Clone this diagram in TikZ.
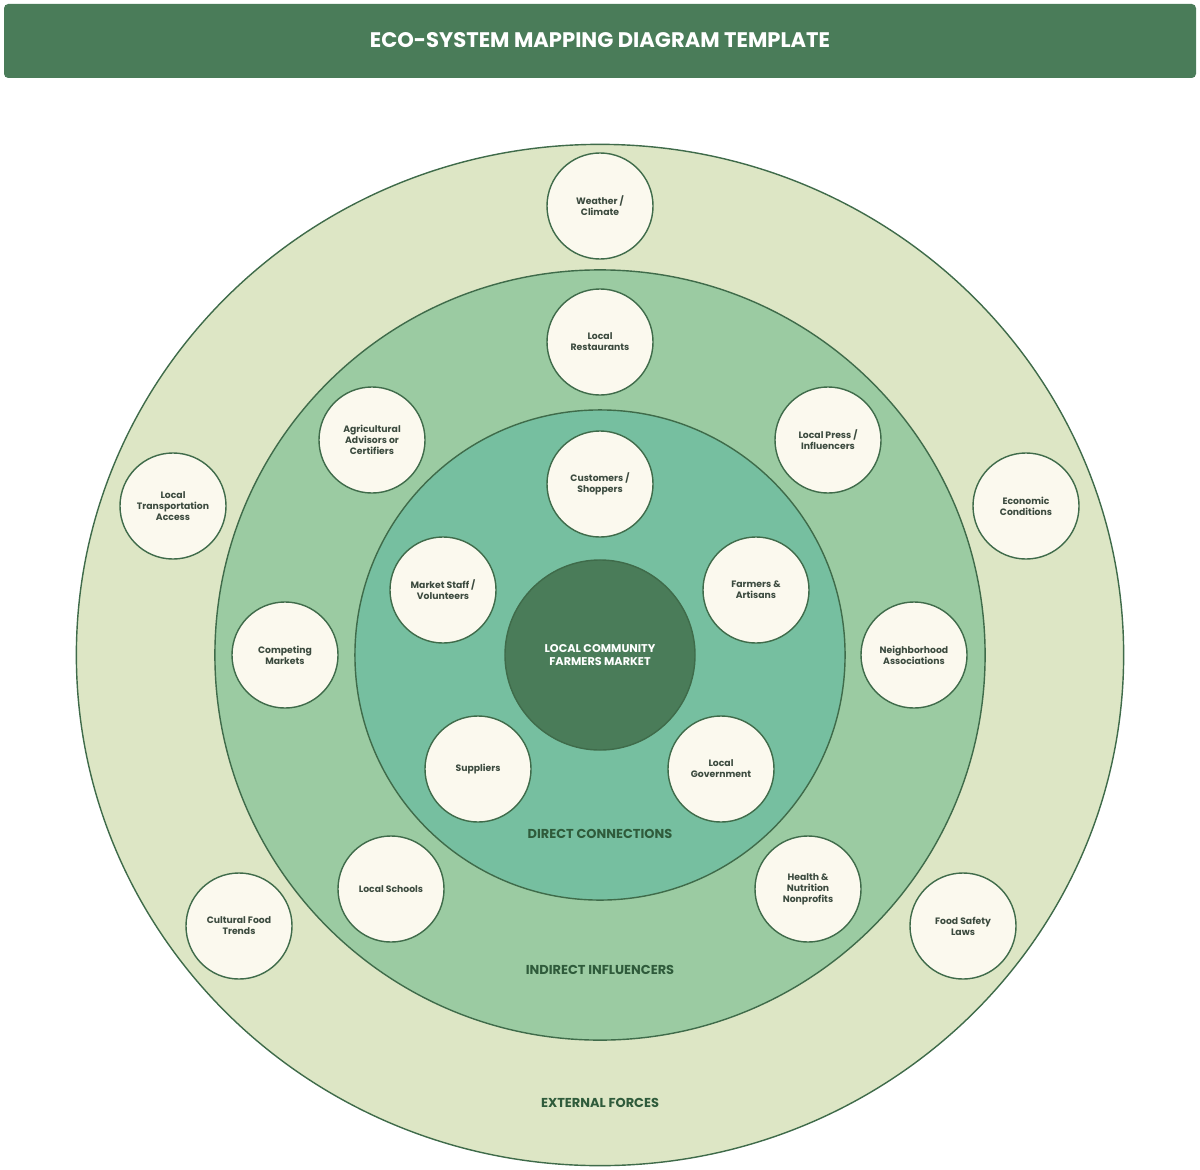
\documentclass[tikz,border=0pt]{standalone}
\usepackage{fontspec}
\setmainfont{Poppins}
\usetikzlibrary{positioning}
\definecolor{titlefill}{rgb}{0.29,0.486,0.349}
\definecolor{outerfill}{rgb}{0.867,0.902,0.773}
\definecolor{midfill}{rgb}{0.608,0.796,0.635}
\definecolor{innerfill}{rgb}{0.463,0.749,0.627}
\definecolor{actorfill}{rgb}{0.984,0.976,0.933}
\definecolor{ringline}{rgb}{0.247,0.42,0.29}
\definecolor{actortext}{rgb}{0.231,0.29,0.243}
\definecolor{ringtext}{rgb}{0.184,0.357,0.231}
\begin{document}
\begin{tikzpicture}[line cap=round,line join=round,x=0.025cm,y=-0.025cm,
  actor/.style={circle,draw=ringline,line width=1pt,fill=actorfill,minimum size=2.65cm,inner sep=0pt,align=center,text=actortext,font=\fontsize{6.6}{7.8}\selectfont\bfseries},
  ringlabel/.style={text=ringtext,font=\fontsize{9.2}{10}\selectfont\bfseries}]
\useasboundingbox (0,0) rectangle (1200,1169);
% title bar
\fill [titlefill,rounded corners=3pt] (4,4) rectangle (1196,78);
\node [text=white,font=\fontsize{15}{16}\selectfont\bfseries] (title) at (600,40) {ECO-SYSTEM MAPPING DIAGRAM TEMPLATE};
% rings
\coordinate (hub) at (600,655);
\draw [line width=1pt,draw=ringline,fill=outerfill] (hub) ellipse [x radius=13.0875cm,y radius=12.7625cm];
\draw [line width=1pt,draw=ringline,fill=midfill] (hub) circle (9.625cm);
\draw [line width=1pt,draw=ringline,fill=innerfill] (hub) circle (6.125cm);
\node [circle,draw=ringline,line width=1pt,fill=titlefill,minimum size=4.75cm,inner sep=0pt,align=center,text=white,font=\fontsize{8}{9.2}\selectfont\bfseries] (market) at (hub) {LOCAL COMMUNITY\\FARMERS MARKET};
% ring labels
\node [ringlabel] (direct) at (600,834) {DIRECT CONNECTIONS};
\node [ringlabel] (indirect) at (600,970) {INDIRECT INFLUENCERS};
\node [ringlabel] (external) at (600,1103) {EXTERNAL FORCES};
% direct connections
\node [actor] (customers) at (600,484) {Customers /\\Shoppers};
\node [actor] (staff) at (443,590) {Market Staff /\\Volunteers};
\node [actor] (farmers) at (756,590) {Farmers \&\\Artisans};
\node [actor] (suppliers) at (478,769) {Suppliers};
\node [actor] (government) at (721,769) {Local\\Government};
% indirect influencers
\node [actor] (restaurants) at (600,342) {Local\\Restaurants};
\node [actor] (advisors) at (372,440) {Agricultural\\Advisors or\\Certifiers};
\node [actor] (press) at (828,440) {Local Press /\\Influencers};
\node [actor] (competing) at (285,655) {Competing\\Markets};
\node [actor] (neighborhood) at (914,655) {Neighborhood\\Associations};
\node [actor] (schools) at (391,889) {Local Schools};
\node [actor] (health) at (808,889) {Health \&\\Nutrition\\Nonprofits};
% external forces
\node [actor] (weather) at (600,206) {Weather /\\Climate};
\node [actor] (transport) at (173,506) {Local\\Transportation\\Access};
\node [actor] (economic) at (1026,506) {Economic\\Conditions};
\node [actor] (trends) at (239,926) {Cultural Food\\Trends};
\node [actor] (safety) at (963,926) {Food Safety\\Laws};
\end{tikzpicture}
\end{document}
